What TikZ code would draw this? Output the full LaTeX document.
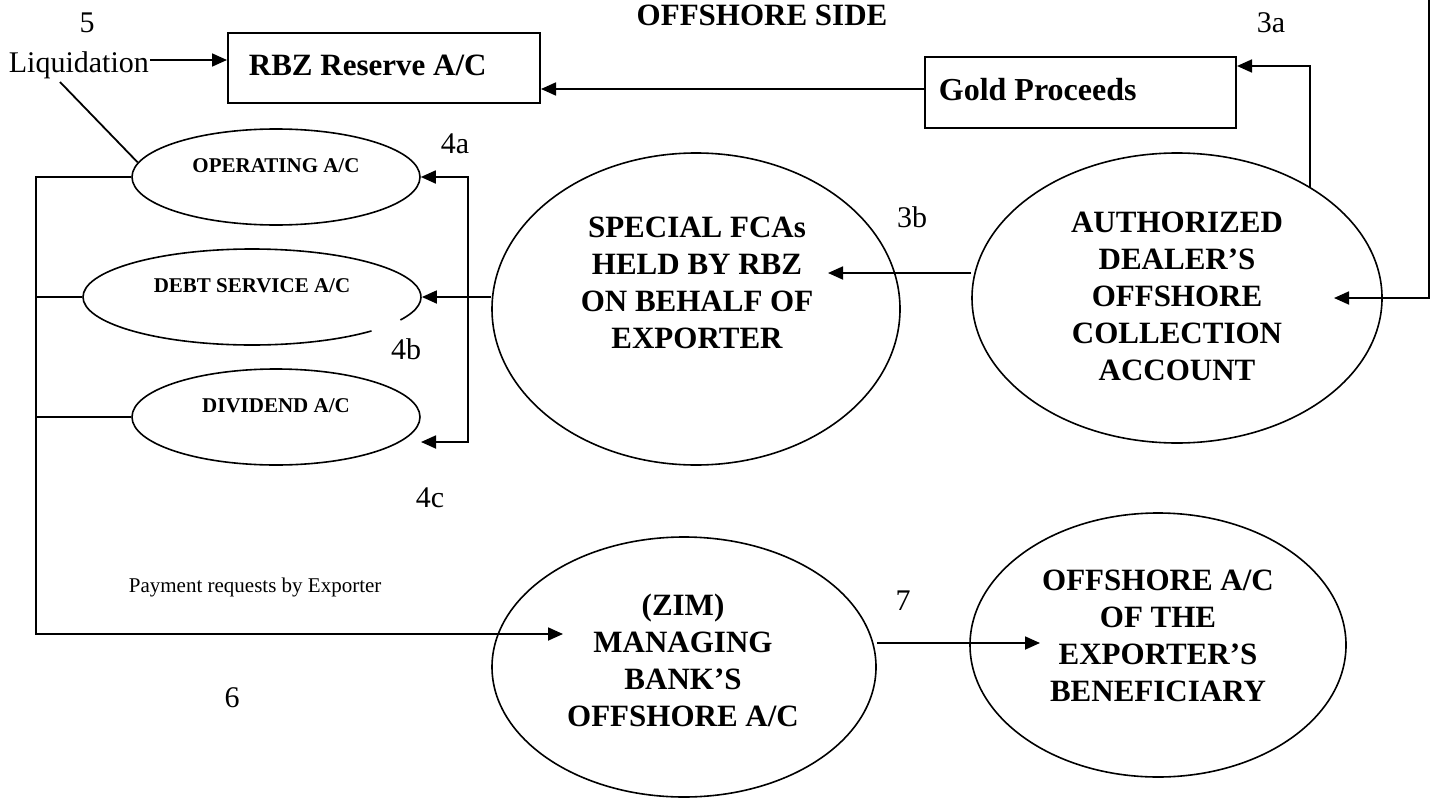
\documentclass[tikz,border=0pt]{standalone}
\usepackage{fontspec}
\setmainfont{Liberation Serif}
\usetikzlibrary{arrows.meta,shapes.geometric}
\newcommand{\mlines}[1]{\begin{tabular}[t]{@{}c@{}}#1\end{tabular}}
\begin{document}
\begin{tikzpicture}[x=1pt,y=-1pt,
  line width=1.8pt,
  arr/.style={-{Triangle[length=15pt,width=13pt]}},
  rbox/.style={draw, rectangle, inner sep=0pt, line width=2pt},
  oval/.style={draw, ellipse, inner sep=0pt, line width=1.6pt},
  bigt/.style={font=\fontsize{31}{37}\selectfont\bfseries, inner sep=0pt},
  smallt/.style={font=\fontsize{21}{25}\selectfont\bfseries, inner sep=0pt},
  numt/.style={font=\fontsize{30}{36}\selectfont, inner sep=0pt},
  notet/.style={font=\fontsize{21}{25}\selectfont, inner sep=0pt}]
\useasboundingbox (0,0) rectangle (1434,800);

% boxes
\node[rbox, minimum width=312pt, minimum height=70pt] (rbz) at (384,68) {};
\node[rbox, minimum width=311pt, minimum height=71pt] (gold) at (1080.5,92.5) {};
\node[bigt, anchor=base west] (rbzt) at (248,75) {RBZ Reserve A/C};
\node[bigt, font=\fontsize{32}{38}\selectfont\bfseries, anchor=base west] (goldt) at (938,100) {Gold Proceeds};

% ellipses
\node[oval, minimum width=288pt, minimum height=96pt] (op) at (276,177) {};
\node[ellipse, inner sep=0pt, minimum width=338pt, minimum height=96pt] (debt) at (252,297) {};
\draw[line width=1.6pt] (debt.center) ++(45:169 and 48) arc[start angle=45, end angle=388.6, x radius=169, y radius=48];
\node[oval, minimum width=288pt, minimum height=96pt] (div) at (276,417) {};
\node[oval, minimum width=408pt, minimum height=312pt] (sp) at (696,309) {};
\node[oval, minimum width=410pt, minimum height=290pt] (ad) at (1177,298) {};
\node[oval, minimum width=384pt, minimum height=260pt] (zim) at (684,667) {};
\node[oval, minimum width=376pt, minimum height=264pt] (ben) at (1158,645) {};

% ellipse texts
\node[smallt, anchor=base] (opt) at (276,172) {OPERATING A/C};
\node[smallt, anchor=base] (debtt) at (252,292) {DEBT SERVICE A/C};
\node[smallt, anchor=base] (divt) at (276,412) {DIVIDEND A/C};
\node[bigt, anchor=base] (spt) at (697,237) {\mlines{SPECIAL FCAs\\HELD BY RBZ\\ON BEHALF OF\\EXPORTER}};
\node[bigt, anchor=base] (adt) at (1177,232) {\mlines{AUTHORIZED\\DEALER’S\\OFFSHORE\\COLLECTION\\ACCOUNT}};
\node[bigt, anchor=base] (zimt) at (683,615) {\mlines{(ZIM)\\MANAGING\\BANK’S\\OFFSHORE A/C}};
\node[bigt, anchor=base] (bent) at (1158,590) {\mlines{OFFSHORE A/C\\OF THE\\EXPORTER’S\\BENEFICIARY}};

% labels
\node[bigt, anchor=base] (title) at (762,26) {OFFSHORE SIDE};
\node[numt, anchor=base] (n5) at (87,33) {5};
\node[numt, anchor=base west] (liq) at (8,73) {Liquidation};
\node[numt, anchor=base] (n3a) at (1271,33) {3a};
\node[numt, anchor=base] (n4a) at (455,153) {4a};
\node[numt, anchor=base] (n3b) at (912,227) {3b};
\node[numt, anchor=base] (n4b) at (406,359) {4b};
\node[numt, anchor=base] (n4c) at (430,507) {4c};
\node[numt, anchor=base] (n6) at (232,707) {6};
\node[numt, anchor=base] (n7) at (903,610) {7};
\node[notet, anchor=base west] (pay) at (128,592) {Payment requests by Exporter};

% coordinates for free ends
\coordinate (liqd) at (60,82);
\coordinate (topr) at (1429,-2);
\coordinate (adin) at (1334,298);
\coordinate (sptip) at (828,273);
\coordinate (brk) at (468,297);
\coordinate (divtip) at (421,442);
\coordinate (lbot) at (36,634);
\coordinate (zimtip) at (563,634);
\coordinate (bentip) at (1040,643);

% connectors
\draw[arr] (liq.east |- 0,60) -- (rbz.west |- 0,60);
\draw[arr] (gold.west |- 0,89) -- (rbz.east |- 0,89);
\draw[arr] (ad.40.6) |- (gold.east |- 0,66);
\draw[arr] (topr) |- (adin);
\draw[arr] (ad.west |- sptip) -- (sptip);
\draw[arr] (sp.west |- 0,297) -- (debt.east);
\draw[arr] (brk) |- (op.east);
\draw[arr] (brk) |- (divtip);
\draw (liqd) -- (op.174);
\draw[arr] (op.west) -| (lbot) -- (zimtip);
\draw (debt.west) -- (debt.west -| lbot);
\draw (div.west) -- (div.west -| lbot);
\draw[arr] (zim.east |- bentip) -- (bentip);
\end{tikzpicture}
\end{document}
